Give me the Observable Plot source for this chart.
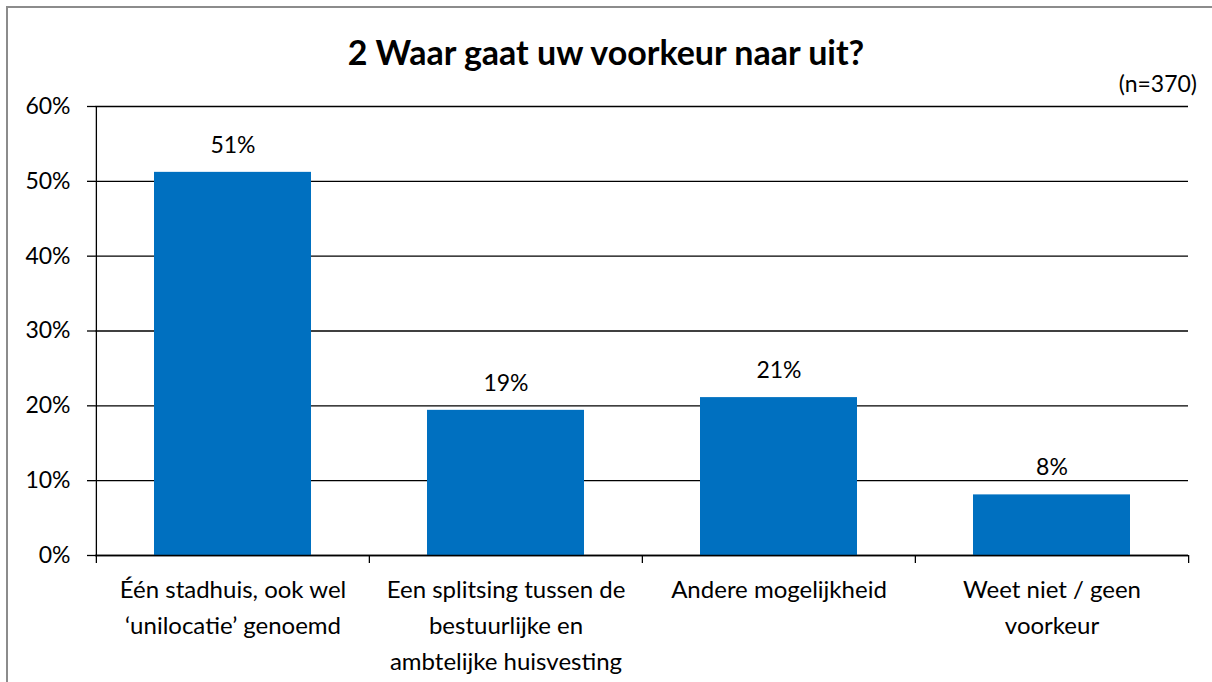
<!DOCTYPE html>
<html>
<head>
<meta charset="utf-8">
<script src="https://cdn.jsdelivr.net/npm/d3@7"></script>
<script src="https://cdn.jsdelivr.net/npm/@observablehq/plot@0.6"></script>
<style>
  html, body { margin: 0; padding: 0; background: #fff; }
  body { width: 1212px; height: 682px; position: relative; overflow: hidden; font-family: Lato, "Open Sans", sans-serif; }
  #frame { position: absolute; left: 6px; top: 6px; width: 1220px; height: 700px; border-left: 2px solid #8c8c8c; border-top: 2px solid #8c8c8c; }
  #title { position: absolute; left: 0; width: 1212px; top: 31px; text-align: center; font-weight: bold; font-size: 34px; line-height: 42px; color: #000; }
  #note { position: absolute; right: 15px; top: 69px; font-size: 23px; line-height: 28px; color: #000; }
  #chart { position: absolute; left: 0; top: 0; }
</style>
</head>
<body>
<div id="frame"></div>
<div id="chart"></div>
<div id="title">2 Waar gaat uw voorkeur naar uit?</div>
<div id="note">(n=370)</div>
<script>
const categories = [
  "Één stadhuis, ook wel ‘unilocatie’ genoemd",
  "Een splitsing tussen de bestuurlijke en ambtelijke huisvesting",
  "Andere mogelijkheid",
  "Weet niet / geen voorkeur"
];
const tickLabels = [
  "Één stadhuis, ook wel\n‘unilocatie’ genoemd",
  "Een splitsing tussen de\nbestuurlijke en\nambtelijke huisvesting",
  "Andere mogelijkheid",
  "Weet niet / geen\nvoorkeur"
];
const values = [0.512, 0.194, 0.211, 0.081];
const valueLabels = ["51%", "19%", "21%", "8%"];
const yTicks = [0, 0.1, 0.2, 0.3, 0.4, 0.5, 0.6];

const data = categories.map((c, i) => ({category: c, value: values[i], label: valueLabels[i]}));
const labelOf = new Map(categories.map((c, i) => [c, tickLabels[i]]));

const W = 1212, H = 682;
const mL = 95, mR = 24, mT = 106, mB = 127;
const step = (W - mL - mR) / categories.length;

const chart = Plot.plot({
  width: W,
  height: H,
  marginLeft: mL,
  marginRight: mR,
  marginTop: mT,
  marginBottom: mB,
  style: {fontFamily: "Lato, 'Open Sans', sans-serif", fontSize: "20px", color: "#000", background: "transparent"},
  x: {domain: categories, paddingInner: 0.425, paddingOuter: 0.2125, label: null},
  y: {domain: [0, 0.6], label: null},
  marks: [
    Plot.gridY(yTicks, {stroke: "#000", strokeOpacity: 1, strokeWidth: 1.3}),
    Plot.barY(data, {x: "category", y: "value", fill: "#0070C0"}),
    Plot.ruleY([0], {stroke: "#000", strokeWidth: 1.3}),
    Plot.ruleX([categories[0]], {y1: 0, y2: 0.6, dx: -step / 2, stroke: "#000", strokeWidth: 1.3}),
    Plot.axisY(yTicks, {tickSize: 8, tickPadding: 17, tickFormat: d3.format(".0%"), stroke: "#000", strokeWidth: 1.3, fontSize: 23}),
    Plot.axisX(categories, {tickSize: 8, dx: -step / 2, tickFormat: () => "", stroke: "#000", strokeWidth: 1.3}),
    Plot.axisX([categories[categories.length - 1]], {tickSize: 8, dx: step / 2, tickFormat: () => "", stroke: "#000", strokeWidth: 1.3}),
    Plot.axisX(categories, {tickSize: 0, tickPadding: 17, tickFormat: d => labelOf.get(d), lineHeight: 1.5, fontSize: 24, lineAnchor: "top"}),
    Plot.text(data, {x: "category", y: "value", text: "label", dy: -27, fontSize: 23, fill: "#000"})
  ]
});
document.getElementById("chart").appendChild(chart);
</script>
</body>
</html>
